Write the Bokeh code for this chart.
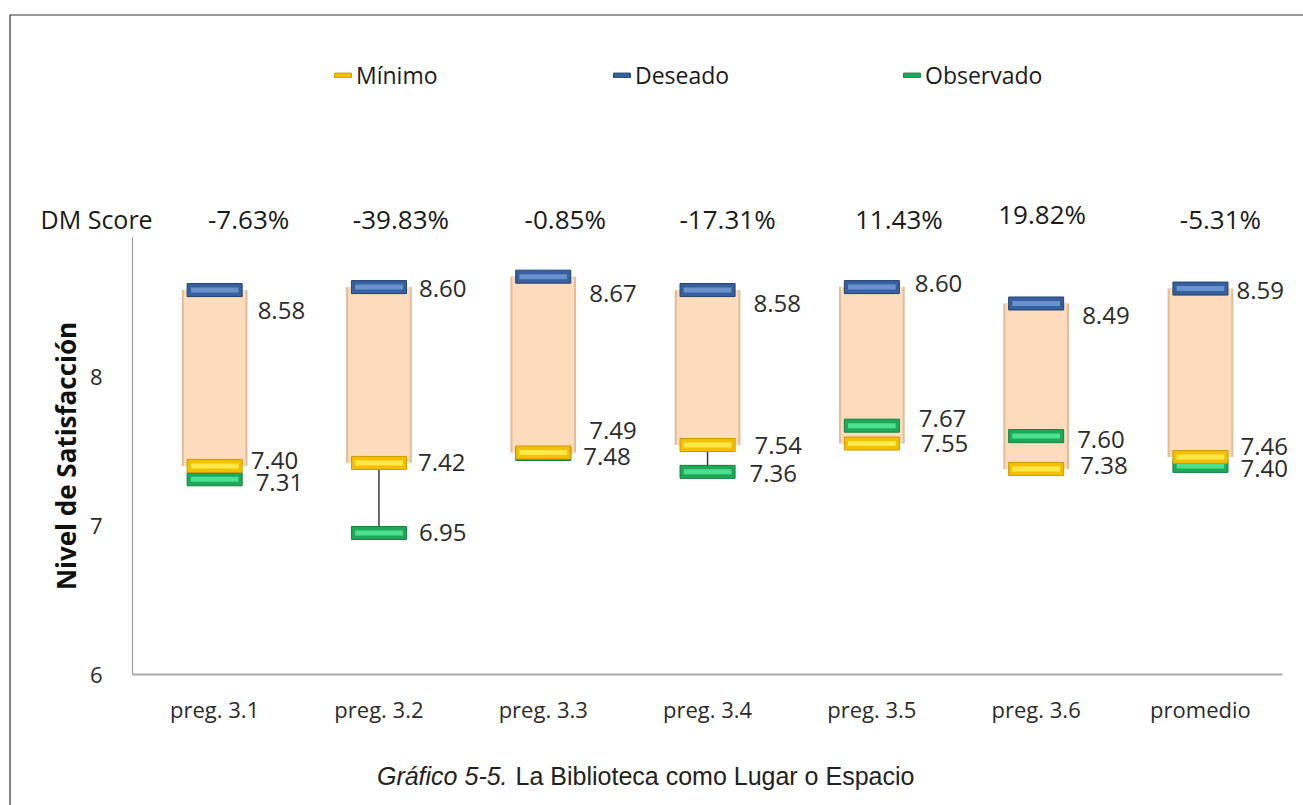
from bokeh.plotting import figure
from bokeh.models import (ColumnDataSource, Range1d, FixedTicker, LinearAxis,
                          Legend, LegendItem, BoxAnnotation)
from bokeh.core.properties import value
from bokeh.embed import file_html
from bokeh.resources import INLINE

# ---------------- data ----------------
categories = ["preg. 3.1", "preg. 3.2", "preg. 3.3", "preg. 3.4", "preg. 3.5", "preg. 3.6", "promedio"]
minimo = [7.40, 7.42, 7.49, 7.54, 7.55, 7.38, 7.46]
deseado = [8.58, 8.60, 8.67, 8.58, 8.60, 8.49, 8.59]
observado = [7.31, 6.95, 7.48, 7.36, 7.67, 7.60, 7.40]
dm_score = [-7.63, -39.83, -0.85, -17.31, 11.43, 19.82, -5.31]
y_ticks = [6, 7, 8]
y_min, y_max = 6, 8.933

# ---------------- label placement (pixels, style) ----------------
des_dx = [43, 40, 46, 46, 43, 46, 36]
des_dy = [20, 1, 17, 13, -4, 12, 2]
min_dx = [36, 39, 46, 47, 49, 44, 40]
min_dy = [-5, 0, -22, 0, 0, -3, -10]
obs_dx = [41, 40, 40, 42, 47, 41, 40]
obs_dy = [3, 0, 3, 2, -7, 3, 3]
dm_dx = [34, 22, 22, 20, 27, 6, 20]
dm_dy = [-18, -18, -18, -18, -18, -23, -18]

FONT = "Open Sans"
TXT = "#2b2b2b"

# ---------------- geometry (pixels) ----------------
W, H = 1303, 805
AX_LEFT, AX_BOTTOM = 132, 674      # pixel position of the plot area's lower-left corner
CAT_PX, UNIT_PX = 164.3, 149.0     # pixels per category / per satisfaction unit

x_centers = [i + 0.5 for i in range(len(categories))]
x_range = Range1d(-AX_LEFT / CAT_PX, (W - AX_LEFT) / CAT_PX)
y_range = Range1d(y_min - (H - AX_BOTTOM) / UNIT_PX, y_min + AX_BOTTOM / UNIT_PX)

p = figure(width=W, height=H, x_range=x_range, y_range=y_range,
           x_axis_location=None, y_axis_location=None,
           output_backend="svg", toolbar_location=None,
           min_border_left=0, min_border_right=0, min_border_top=0, min_border_bottom=0)
p.outline_line_color = None
p.xgrid.grid_line_color = None
p.ygrid.grid_line_color = None
p.background_fill_color = "white"
p.border_fill_color = "white"

# axes (placed at the value 6 / left edge of the categories)
xaxis = LinearAxis(fixed_location=y_min, bounds=(0, len(categories)),
                   ticker=FixedTicker(ticks=x_centers),
                   major_label_overrides={c: t for c, t in zip(x_centers, categories)})
xaxis.major_label_text_font = FONT
xaxis.major_label_text_font_size = "22px"
xaxis.major_label_text_color = TXT
xaxis.major_label_standoff = 13
xaxis.major_tick_line_color = None
xaxis.minor_tick_line_color = None
xaxis.axis_line_color = "#a8a8a8"
xaxis.axis_line_width = 2
p.add_layout(xaxis, "below")

yaxis = LinearAxis(fixed_location=0, bounds=(y_min, y_max), ticker=FixedTicker(ticks=y_ticks))
yaxis.axis_label = "Nivel de Satisfacción"
yaxis.axis_label_text_font = FONT
yaxis.axis_label_text_font_style = "bold"
yaxis.axis_label_text_font_size = "26px"
yaxis.axis_label_text_color = "#111111"
yaxis.axis_label_standoff = 3
yaxis.major_label_text_font = FONT
yaxis.major_label_text_font_size = "22px"
yaxis.major_label_text_color = TXT
yaxis.major_label_standoff = 24
yaxis.major_tick_line_color = None
yaxis.minor_tick_line_color = None
yaxis.axis_line_color = "#a0a0a0"
yaxis.axis_line_width = 1.2
p.add_layout(yaxis, "left")

# outer frame line of the chart area (left and top edges visible)
p.add_layout(BoxAnnotation(left=(9.5 - AX_LEFT) / CAT_PX, right=x_range.end + 1,
                           top=y_min + (AX_BOTTOM - 14.5) / UNIT_PX, bottom=y_range.start - 1,
                           fill_alpha=0, line_color="#333333", line_alpha=1.0, line_width=1.2,
                           level="underlay"))

# high-low lines
lows = [min(a, b, c) for a, b, c in zip(minimo, deseado, observado)]
highs = [max(a, b, c) for a, b, c in zip(minimo, deseado, observado)]
p.segment(x0=x_centers, y0=lows, x1=x_centers, y1=highs, line_color="#3a3a3a", line_width=1.5)

# up-down bars (peach, with a soft bevelled edge)
p.vbar(x=x_centers, bottom=minimo, top=deseado, width=0.40, fill_color="#e2bd9c", line_color=None)
p.vbar(x=x_centers, bottom=minimo, top=deseado, width=0.375, fill_color="#fddcbd", line_color=None)

def markers(vals, base, edge, light):
    r = p.rect(x=x_centers, y=vals, width=0.335, height=13, height_units="screen",
               fill_color=base, line_color=edge, line_width=1)
    p.rect(x=x_centers, y=vals, width=0.29, height=5, height_units="screen",
           fill_color=light, line_color=None)
    return r

r_obs = markers(observado, "#1ea85a", "#12803f", "#4fe08f")
r_min = markers(minimo, "#f2c000", "#c99a00", "#ffe94a")
r_des = markers(deseado, "#36609e", "#22426f", "#6a92cc")

# value labels
def value_labels(vals, dx, dy):
    src = ColumnDataSource(dict(x=x_centers, y=vals, t=["%.2f" % v for v in vals], dx=dx, dy=dy))
    p.text(x="x", y="y", text="t", x_offset="dx", y_offset="dy", source=src,
           text_font=value(FONT), text_font_size="24px", text_color=TXT,
           text_align="left", text_baseline="middle")

value_labels(deseado, des_dx, des_dy)
value_labels(minimo, min_dx, min_dy)
value_labels(observado, obs_dx, obs_dy)

# DM Score row
dm_src = ColumnDataSource(dict(x=x_centers, y=[y_max] * len(x_centers),
                               t=["%.2f%%" % v for v in dm_score], dx=dm_dx, dy=dm_dy))
p.text(x="x", y="y", text="t", x_offset="dx", y_offset="dy", source=dm_src,
       text_font=value(FONT), text_font_size="26px", text_color="#1a1a1a",
       text_align="center", text_baseline="middle")
p.text(x=[x_centers[0]], y=[y_max], text=["DM Score"], x_offset=-62, y_offset=-18,
       text_font=value(FONT), text_font_size="25px", text_color="#1a1a1a",
       text_align="right", text_baseline="middle")

# caption
mid = len(categories) / 2
p.text(x=[mid], y=[y_min], text=["Gráfico 5-5."], x_offset=-200, y_offset=101,
       text_font=value("Liberation Sans"), text_font_style="italic", text_font_size="25px",
       text_color="#222222", text_align="right", text_baseline="middle")
p.text(x=[mid], y=[y_min], text=["La Biblioteca como Lugar o Espacio"], x_offset=-192, y_offset=101,
       text_font=value("Liberation Sans"), text_font_size="25px",
       text_color="#222222", text_align="left", text_baseline="middle")

# legend (three single-item legends)
for name, r, lx in [("Mínimo", r_min, 332), ("Deseado", r_des, 611), ("Observado", r_obs, 901)]:
    lg = Legend(items=[LegendItem(label=name, renderers=[r])], location=(lx, H - 91),
                orientation="horizontal", glyph_width=21, glyph_height=6, label_standoff=3,
                padding=0, margin=0, border_line_color=None, background_fill_alpha=0,
                label_text_font=FONT, label_text_font_size="23px", label_text_color="#1a1a1a")
    p.add_layout(lg, "center")

open("out.html", "w").write(file_html(p, INLINE))
